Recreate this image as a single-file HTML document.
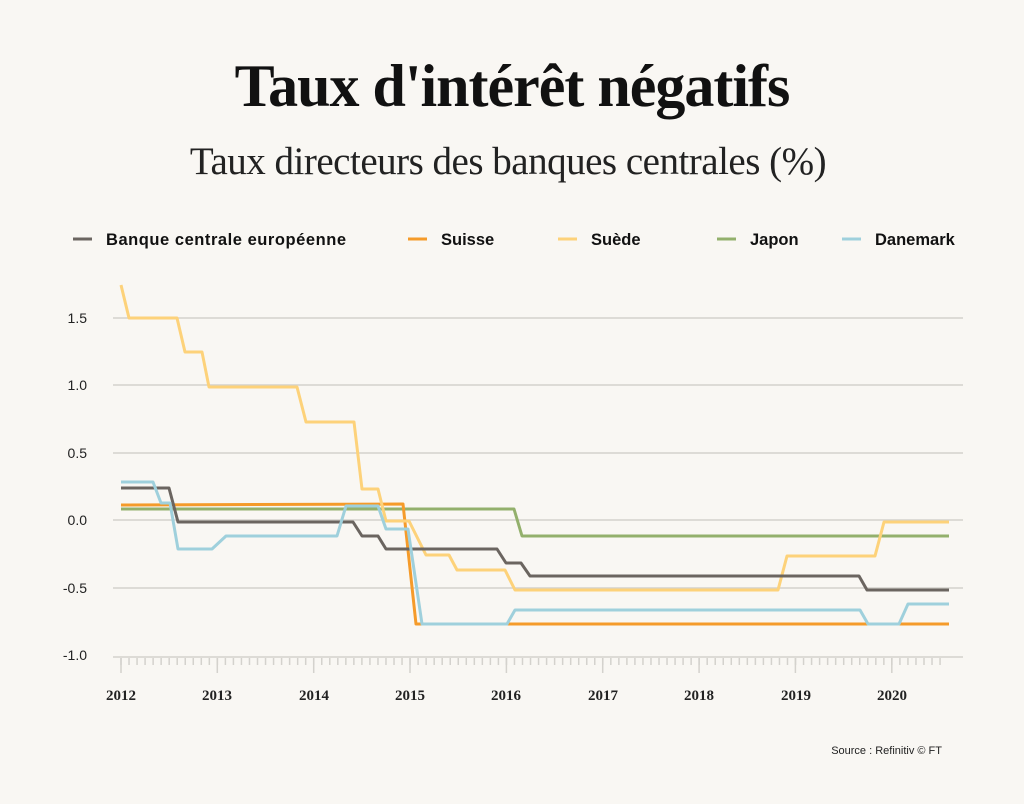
<!DOCTYPE html>
<html><head><meta charset="utf-8"><style>
body{margin:0;background:#f9f7f3;}
svg{display:block}
</style></head><body>
<svg width="1024" height="804" xmlns="http://www.w3.org/2000/svg">
<rect width="1024" height="804" fill="#f9f7f3"/>
<text x="512" y="106" text-anchor="middle" font-family="Liberation Serif, serif" font-weight="bold" font-size="60" fill="#111" letter-spacing="-1">Taux d'intérêt négatifs</text>
<text x="508" y="174" text-anchor="middle" font-family="Liberation Serif, serif" font-size="39" fill="#222" letter-spacing="-0.5">Taux directeurs des banques centrales (%)</text>
<g font-family="Liberation Sans, sans-serif" font-weight="bold" font-size="16.5" fill="#111">
<line x1="73" y1="239" x2="92" y2="239" stroke="#6b6560" stroke-width="3"/><text x="106" y="245" textLength="240">Banque centrale européenne</text>
<line x1="408" y1="239" x2="427" y2="239" stroke="#f59b2a" stroke-width="3"/><text x="441" y="245">Suisse</text>
<line x1="558" y1="239" x2="577" y2="239" stroke="#fdd27a" stroke-width="3"/><text x="591" y="245">Suède</text>
<line x1="717" y1="239" x2="736" y2="239" stroke="#93b06c" stroke-width="3"/><text x="750" y="245">Japon</text>
<line x1="842" y1="239" x2="861" y2="239" stroke="#9fd0dc" stroke-width="3"/><text x="875" y="245">Danemark</text>
</g>
<g stroke="#d4d2cd" stroke-width="1.5">
<line x1="113" y1="318" x2="963" y2="318"/>
<line x1="113" y1="385" x2="963" y2="385"/>
<line x1="113" y1="453" x2="963" y2="453"/>
<line x1="113" y1="520" x2="963" y2="520"/>
<line x1="113" y1="588" x2="963" y2="588"/>
<line x1="113" y1="657" x2="963" y2="657"/>
</g>
<g font-family="Liberation Sans, sans-serif" font-size="14" fill="#222" text-anchor="end">
<text x="87" y="323">1.5</text><text x="87" y="390">1.0</text><text x="87" y="458">0.5</text>
<text x="87" y="525">0.0</text><text x="87" y="593">-0.5</text><text x="87" y="660">-1.0</text>
</g>
<path stroke="#d4d2cd" stroke-width="1.5" fill="none" d="M121 658v7m8.03 -7v7m8.03 -7v7m8.03 -7v7m8.03 -7v7m8.03 -7v7m8.03 -7v7m8.03 -7v7m8.03 -7v7m8.03 -7v7m8.03 -7v7m8.03 -7v7m8.03 -7v7m8.03 -7v7m8.03 -7v7m8.03 -7v7m8.03 -7v7m8.03 -7v7m8.03 -7v7m8.03 -7v7m8.03 -7v7m8.03 -7v7m8.03 -7v7m8.03 -7v7m8.03 -7v7m8.03 -7v7m8.03 -7v7m8.03 -7v7m8.03 -7v7m8.03 -7v7m8.03 -7v7m8.03 -7v7m8.03 -7v7m8.03 -7v7m8.03 -7v7m8.03 -7v7m8.03 -7v7m8.03 -7v7m8.03 -7v7m8.03 -7v7m8.03 -7v7m8.03 -7v7m8.03 -7v7m8.03 -7v7m8.03 -7v7m8.03 -7v7m8.03 -7v7m8.03 -7v7m8.03 -7v7m8.03 -7v7m8.03 -7v7m8.03 -7v7m8.03 -7v7m8.03 -7v7m8.03 -7v7m8.03 -7v7m8.03 -7v7m8.03 -7v7m8.03 -7v7m8.03 -7v7m8.03 -7v7m8.03 -7v7m8.03 -7v7m8.03 -7v7m8.03 -7v7m8.03 -7v7m8.03 -7v7m8.03 -7v7m8.03 -7v7m8.03 -7v7m8.03 -7v7m8.03 -7v7m8.03 -7v7m8.03 -7v7m8.03 -7v7m8.03 -7v7m8.03 -7v7m8.03 -7v7m8.03 -7v7m8.03 -7v7m8.03 -7v7m8.03 -7v7m8.03 -7v7m8.03 -7v7m8.03 -7v7m8.03 -7v7m8.03 -7v7m8.03 -7v7m8.03 -7v7m8.03 -7v7m8.03 -7v7m8.03 -7v7m8.03 -7v7m8.03 -7v7m8.03 -7v7m8.03 -7v7m8.03 -7v7m8.03 -7v7m8.03 -7v7m8.03 -7v7m8.03 -7v7m8.03 -7v7m8.03 -7v7"/>
<path stroke="#d4d2cd" stroke-width="1.5" fill="none" d="M121 658v15M217.3 658v15M313.7 658v15M410 658v15M506.4 658v15M602.7 658v15M699.1 658v15M795.4 658v15M891.8 658v15"/>
<g font-family="Liberation Serif, serif" font-weight="bold" font-size="15" fill="#222" text-anchor="middle">
<text x="121" y="700">2012</text><text x="217" y="700">2013</text><text x="314" y="700">2014</text>
<text x="410" y="700">2015</text><text x="506" y="700">2016</text><text x="603" y="700">2017</text>
<text x="699" y="700">2018</text><text x="796" y="700">2019</text><text x="892" y="700">2020</text>
</g>
<g fill="none" stroke-width="3" stroke-linejoin="round">
<polyline stroke="#93b06c" points="121,509 514,509 522,536 949,536"/>
<polyline stroke="#f59b2a" points="121,505 403,504 416,624 949,624"/>
<polyline stroke="#fdd27a" points="121,285 129,318 177,318 185,352 202,352 209,387 297,387 306,422 354,422 362,489 378,489 386,521 409,521 426,555 449,555 457,570 505,570 515,590 778,590 787,556 875,556 884,522 949,522"/>
<polyline stroke="#6b6560" points="121,488 169,488 178,522 353,522 362,536 378,536 386,549 497,549 506,563 521,563 530,576 859,576 867,590 949,590"/>
<polyline stroke="#9fd0dc" points="121,482 153,482 161,503 170,503 178,549 212,549 226,536 337,536 346,506 378,506 386,529 408,529 422,624 507,624 515,610 860,610 868,624 899,624 908,604 949,604"/>
</g>
<text x="942" y="754" text-anchor="end" font-family="Liberation Sans, sans-serif" font-size="11" fill="#222">Source : Refinitiv © FT</text>
</svg>
</body></html>
